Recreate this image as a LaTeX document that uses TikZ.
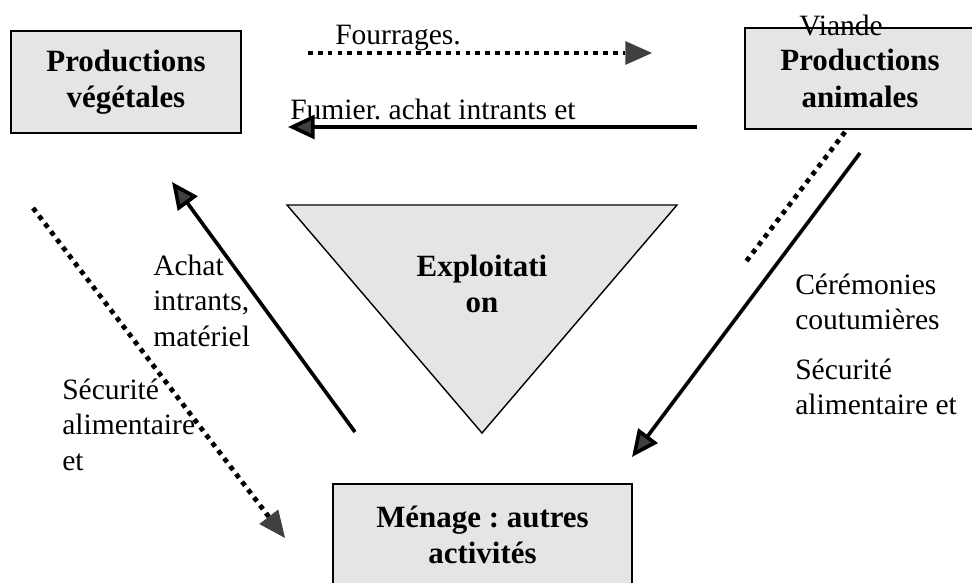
\documentclass[tikz,border=0pt]{standalone}
\usepackage{fontspec}
\setmainfont{Liberation Serif}
\usetikzlibrary{arrows.meta}
\frenchspacing
\newcommand{\bxfont}{\fontsize{22}{26}\selectfont\bfseries}
\newcommand{\lbfont}{\fontsize{21}{25}\selectfont}
\tikzset{
    box/.style={draw, line width=1.3pt, fill=black!10, inner sep=0pt, align=center, font=\bxfont}, % 方框
    tri/.style={draw, line width=1pt, fill=black!10}, % 三角形
    flow/.style={line width=2.6pt, -{Triangle[length=19pt, width=17pt, fill=black!75]}}, % 实线箭头
    dotflow/.style={line width=3.4pt, dash pattern=on 3.4pt off 3.6pt, -{Triangle[length=19pt, width=17pt, fill=black!75, line width=0pt]}}, % 点线箭头
    lbl/.style={inner sep=0pt, align=left, font=\lbfont} % 标签
}
\begin{document}
\begin{tikzpicture}[x=0.025cm, y=-0.025cm, font=\lbfont]
    \useasboundingbox (0,0) rectangle (972,583);
    \clip (0,0) rectangle (972,583);

    % 方框
    \node[box, minimum width=5.75cm, minimum height=2.55cm] (veg) at (126,82) {Productions\\végétales};
    \node[box, minimum width=5.75cm, minimum height=2.53cm] (anim) at (860,78.5) {Productions\\animales};
    \node[box, minimum width=7.475cm, minimum height=2.55cm] (men) at (482.5,535) {Ménage : autres\\activités};
    \node[lbl, anchor=base] (viande) at (841,36) {Viande};

    % 三角形
    \coordinate (triA) at (287,205); \coordinate (triB) at (677,205); \coordinate (triC) at (482,433);
    \filldraw[tri] (triA) -- (triB) -- (triC) -- cycle;
    \node[box, draw=none, fill=none] (expl) at (482,284) {Exploitati\\on};

    % 箭头端点
    \coordinate (fourA) at (308,53);  \coordinate (fourB) at (652,53);
    \coordinate (fumA) at (697,127);  \coordinate (fumB) at (288,127);
    \coordinate (achA) at (355,432);  \coordinate (achB) at (172,182);
    \coordinate (secA) at (33,208);   \coordinate (secB) at (285,538);
    \coordinate (ceA) at (860,153);   \coordinate (ceB) at (632,457);
    \coordinate (vdA) at (845,132);   \coordinate (vdB) at (745,263);

    \draw[dotflow] (fourA) -- (fourB);
    \draw[flow] (fumA) -- (fumB);
    \draw[flow] (achA) -- (achB);
    \draw[dotflow] (secA) -- (secB);
    \draw[flow] (ceA) -- (ceB);
    \draw[dotflow, -] (vdA) -- (vdB);

    % 标签
    \node[lbl, anchor=base west] (four) at (335,45) {Fourrages.};
    \node[lbl, anchor=base west] (fum) at (290,120) {Fumier. achat intrants et};
    \node[lbl, anchor=north west] (ach) at (153,255) {Achat\\intrants,\\matériel};
    \node[lbl, anchor=north west] (secL) at (62,379) {Sécurité\\alimentaire\\et};
    \node[lbl, anchor=north west] (cer) at (795,274) {Cérémonies\\coutumières};
    \node[lbl, anchor=north west] (secR) at (795,359) {Sécurité\\alimentaire et};
\end{tikzpicture}
\end{document}
